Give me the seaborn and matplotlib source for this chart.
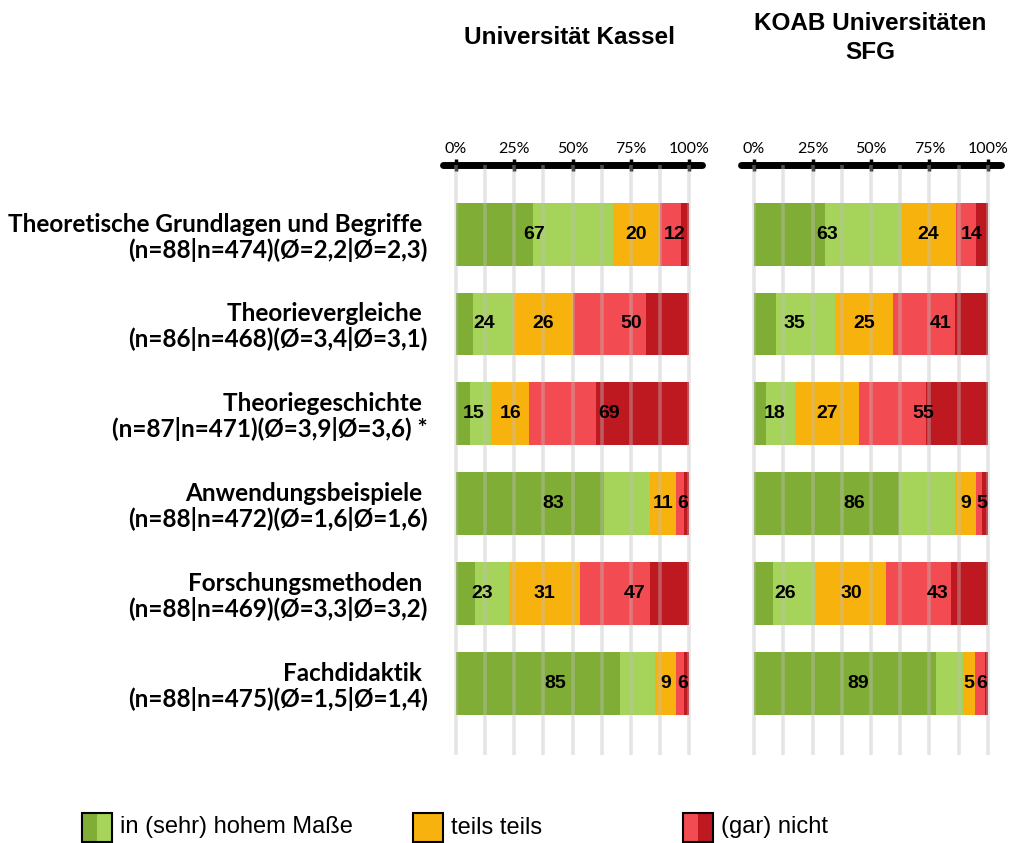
import numpy as np
import pandas as pd
import matplotlib
matplotlib.use("Agg")
import matplotlib.pyplot as plt
import seaborn as sns
from matplotlib.patches import Rectangle

# ---------------- data ----------------
categories = ["Theoretische Grundlagen und Begriffe ", "Theorievergleiche ", "Theoriegeschichte ",
              "Anwendungsbeispiele ", "Forschungsmethoden ", "Fachdidaktik "]
stats = ["(n=88|n=474)(Ø=2,2|Ø=2,3)", "(n=86|n=468)(Ø=3,4|Ø=3,1)", "(n=87|n=471)(Ø=3,9|Ø=3,6) *",
         "(n=88|n=472)(Ø=1,6|Ø=1,6)", "(n=88|n=469)(Ø=3,3|Ø=3,2)", "(n=88|n=475)(Ø=1,5|Ø=1,4)"]

panel_titles = ["Universität Kassel", "KOAB Universitäten\nSFG"]
legend_labels = ["in (sehr) hohem Maße", "teils teils", "(gar) nicht"]
tick_values = [0, 25, 50, 75, 100]
tick_labels = ["0%", "25%", "50%", "75%", "100%"]

kassel_sehr_hoch = [32.9, 7.3, 6.0, 63.5, 8.2, 70.4]
kassel_hoch = [34.5, 17.1, 9.2, 19.8, 14.4, 15.0]
kassel_teils = [20.2, 26.0, 16.1, 11.1, 30.8, 9.0]
kassel_nicht = [9.0, 31.1, 28.8, 3.5, 29.9, 3.5]
kassel_gar_nicht = [3.4, 18.5, 39.9, 2.1, 16.7, 2.1]

koab_sehr_hoch = [30.5, 9.5, 5.2, 61.9, 8.2, 77.8]
koab_hoch = [32.2, 25.3, 12.4, 24.1, 18.0, 11.6]
koab_teils = [23.7, 24.6, 27.1, 9.0, 30.4, 5.0]
koab_nicht = [8.6, 26.6, 28.8, 2.6, 27.6, 4.3]
koab_gar_nicht = [5.0, 14.0, 26.5, 2.4, 15.8, 1.3]

# ---------------- style ----------------
sns.set_style("white")
plt.rcParams["font.family"] = ["Liberation Sans", "DejaVu Sans"]
plt.rcParams["text.color"] = "black"
plt.rcParams["xtick.color"] = "black"
plt.rcParams["ytick.color"] = "black"
plt.rcParams["xtick.labelcolor"] = "black"
plt.rcParams["ytick.labelcolor"] = "black"

colors = ["#80AD35", "#A6D45A", "#F7B20D", "#F24C52", "#BE1820"]

W, H = 1027, 843
fig = plt.figure(figsize=(W / 100, H / 100), dpi=100)

# overlay axes in pixel coordinates for titles + legend
ov = fig.add_axes([0, 0, 1, 1])
ov.set_xlim(0, W)
ov.set_ylim(H, 0)
ov.axis("off")
ov.patch.set_alpha(0)


def fig_axes(x0, x1, y0, y1):
    return fig.add_axes([x0 / W, (H - y1) / H, (x1 - x0) / W, (y1 - y0) / H])


ax_left = fig_axes(443, 702, 165, 755)
ax_right = fig_axes(741, 1001, 165, 755)

panels = [
    (ax_left, [kassel_sehr_hoch, kassel_hoch, kassel_teils, kassel_nicht, kassel_gar_nicht]),
    (ax_right, [koab_sehr_hoch, koab_hoch, koab_teils, koab_nicht, koab_gar_nicht]),
]

ylabels = [c + "\n" + s for c, s in zip(categories, stats)]

for ax, segs in panels:
    segs = np.array(segs, dtype=float)
    cum = np.cumsum(segs, axis=0)
    df = pd.DataFrame({"cat": ylabels})
    for k in range(4, -1, -1):
        df["v"] = cum[k]
        sns.barplot(data=df, x="v", y="cat", orient="h", color=colors[k], saturation=1,
                    width=0.7, linewidth=0, ax=ax, order=ylabels, zorder=2)
    green = segs[0] + segs[1]
    orange = segs[2]
    red = segs[3] + segs[4]
    for i in range(len(ylabels)):
        centers = [green[i] / 2, green[i] + orange[i] / 2, green[i] + orange[i] + red[i] / 2]
        for c, v in zip(centers, [green[i], orange[i], red[i]]):
            ax.text(c, i, f"{int(np.floor(v + 0.5))}", ha="center", va="center",
                    fontsize=14, fontweight="bold", color="black", zorder=5,
                    family=["Liberation Sans", "DejaVu Sans"])
    ax.set_xlim(-5.6, 105.6)
    ax.set_ylim(5.79, -0.767)
    ax.vlines(np.arange(0, 100.1, 12.5), 5.79, -0.767, color="#bfbfbf", alpha=0.4,
              lw=2.6, zorder=3)
    ax.set_xlabel("")
    ax.set_ylabel("")
    for s in ["left", "right", "bottom"]:
        ax.spines[s].set_visible(False)
    ax.spines["top"].set_visible(True)
    ax.spines["top"].set_linewidth(5)
    ax.spines["top"].set_color("black")
    ax.spines["top"].set_capstyle("round")
    ax.xaxis.tick_top()
    ax.set_xticks(tick_values)
    ax.set_xticklabels(tick_labels, family=["Lato", "DejaVu Sans"], fontsize=11.5, color="black")
    ax.tick_params(axis="x", direction="inout", length=9, width=2.5, color="black", pad=2)
    ax.set_facecolor("none")

ax_left.set_yticks(range(len(ylabels)))
ax_left.set_yticklabels(ylabels, family=["Lato", "DejaVu Sans"], fontweight="bold",
                        fontsize=17.5, linespacing=1.1, color="black")
ax_left.tick_params(axis="y", length=0, pad=11)
ax_right.set_yticks(range(len(ylabels)))
ax_right.set_yticklabels([])
ax_right.tick_params(axis="y", length=0)

# titles
ov.text(570, 38, panel_titles[0], ha="center", va="center", fontsize=17.5, fontweight="bold")
ov.text(870, 38, panel_titles[1], ha="center", va="center", fontsize=17.5, fontweight="bold",
        linespacing=1.3)

# legend
leg_x = [82, 413, 683]
py, ph, pw = 813, 29, 30
ov.add_patch(Rectangle((leg_x[0], py), pw / 2, ph, color=colors[0], lw=0))
ov.add_patch(Rectangle((leg_x[0] + pw / 2, py), pw / 2, ph, color=colors[1], lw=0))
ov.add_patch(Rectangle((leg_x[1], py), pw, ph, color=colors[2], lw=0))
ov.add_patch(Rectangle((leg_x[2], py), pw / 2, ph, color=colors[3], lw=0))
ov.add_patch(Rectangle((leg_x[2] + pw / 2, py), pw / 2, ph, color=colors[4], lw=0))
for x0, lab in zip(leg_x, legend_labels):
    ov.add_patch(Rectangle((x0, py), pw, ph, fill=False, ec="black", lw=1.5))
    ov.text(x0 + pw + 8, py + ph / 2, lab, ha="left", va="center", fontsize=17)

fig.savefig("out.png", dpi=100)
